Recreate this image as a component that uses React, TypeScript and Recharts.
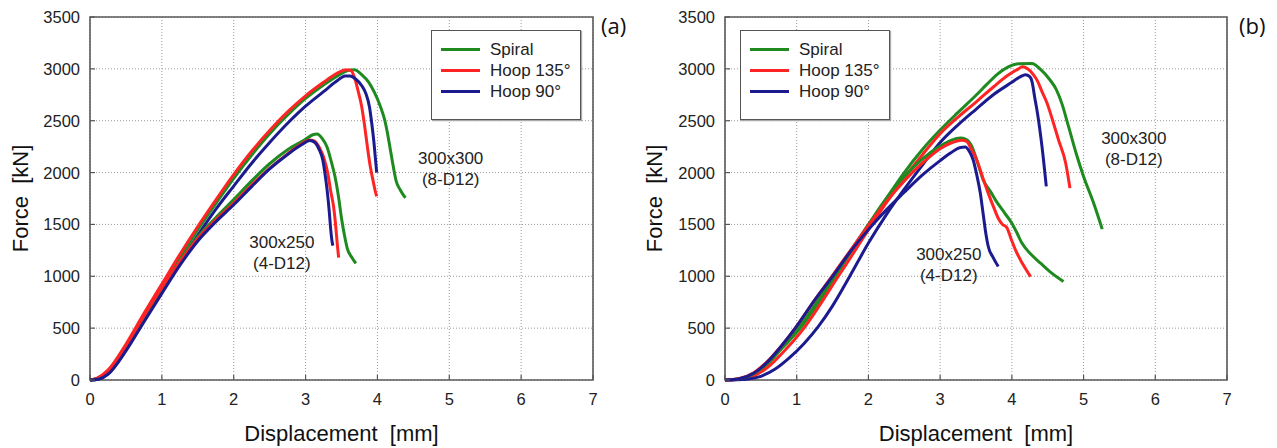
import { LineChart, Line, XAxis, YAxis, CartesianGrid, ReferenceArea, ReferenceDot } from "recharts";

type Pt = [number, number];

const xTicks = [0, 1, 2, 3, 4, 5, 6, 7];
const yTicks = [0, 500, 1000, 1500, 2000, 2500, 3000, 3500];
const legendLabels = ["Spiral", "Hoop 135°", "Hoop 90°"];
const lineColors = ["#1f8a1f", "#ff2424", "#1b1b8f"];

// panel (a) — displacement [mm], force [kN]
const aSpiral300: Pt[] = [[0, 0], [0.1, 12], [0.25, 80], [0.5, 320], [0.75, 610], [1, 895], [1.25, 1180], [1.5, 1450], [1.75, 1700], [2, 1945], [2.25, 2170], [2.5, 2375], [2.75, 2555], [3, 2715], [3.25, 2845], [3.45, 2935], [3.6, 2985], [3.68, 2992], [3.78, 2945], [3.88, 2870], [3.96, 2770], [4.04, 2640], [4.1, 2510], [4.14, 2380], [4.18, 2220], [4.22, 2060], [4.26, 1920], [4.32, 1830], [4.39, 1755]];
const aHoop135_300: Pt[] = [[0, 0], [0.1, 18], [0.25, 95], [0.5, 345], [0.75, 640], [1, 925], [1.25, 1210], [1.5, 1480], [1.75, 1735], [2, 1980], [2.25, 2205], [2.5, 2405], [2.75, 2585], [3, 2740], [3.25, 2870], [3.42, 2950], [3.55, 2988], [3.62, 2990], [3.68, 2920], [3.73, 2790], [3.78, 2640], [3.82, 2460], [3.86, 2250], [3.9, 2060], [3.94, 1920], [3.97, 1820], [3.99, 1770]];
const aHoop90_300: Pt[] = [[0, 0], [0.12, 10], [0.25, 60], [0.5, 290], [0.75, 570], [1, 850], [1.25, 1130], [1.5, 1395], [1.75, 1645], [2, 1870], [2.25, 2090], [2.5, 2290], [2.75, 2475], [3, 2640], [3.25, 2780], [3.42, 2875], [3.55, 2930], [3.62, 2932], [3.7, 2900], [3.78, 2840], [3.84, 2760], [3.89, 2630], [3.92, 2480], [3.95, 2300], [3.97, 2150], [3.99, 2000]];
const aSpiral250: Pt[] = [[0, 0], [0.1, 10], [0.25, 70], [0.5, 305], [0.75, 595], [1, 875], [1.25, 1140], [1.5, 1380], [1.75, 1565], [2, 1740], [2.25, 1920], [2.5, 2085], [2.75, 2220], [3, 2320], [3.1, 2365], [3.16, 2372], [3.23, 2330], [3.3, 2245], [3.36, 2100], [3.41, 1960], [3.46, 1760], [3.5, 1560], [3.54, 1400], [3.58, 1270], [3.64, 1185], [3.7, 1125]];
const aHoop135_250: Pt[] = [[0, 0], [0.1, 15], [0.25, 85], [0.5, 330], [0.75, 615], [1, 890], [1.25, 1140], [1.5, 1365], [1.75, 1545], [2, 1705], [2.25, 1880], [2.5, 2040], [2.75, 2180], [2.95, 2280], [3.05, 2315], [3.12, 2305], [3.2, 2230], [3.26, 2130], [3.31, 1990], [3.35, 1820], [3.39, 1670], [3.42, 1480], [3.44, 1320], [3.46, 1180]];
const aHoop90_250: Pt[] = [[0, 0], [0.13, 10], [0.25, 55], [0.5, 280], [0.75, 560], [1, 835], [1.25, 1105], [1.5, 1340], [1.75, 1525], [2, 1690], [2.25, 1865], [2.5, 2035], [2.75, 2175], [2.95, 2270], [3.06, 2310], [3.13, 2290], [3.19, 2220], [3.24, 2120], [3.27, 1990], [3.3, 1830], [3.33, 1620], [3.35, 1450], [3.37, 1330], [3.38, 1295]];

// panel (b)
const bSpiral300: Pt[] = [[0, 0], [0.2, 10], [0.4, 55], [0.6, 160], [0.8, 310], [1.05, 500], [1.25, 690], [1.54, 1000], [1.75, 1230], [2, 1490], [2.25, 1750], [2.5, 2000], [2.75, 2220], [3, 2410], [3.25, 2580], [3.5, 2745], [3.65, 2850], [3.8, 2950], [3.95, 3020], [4.1, 3050], [4.28, 3052], [4.4, 2995], [4.53, 2895], [4.62, 2800], [4.7, 2660], [4.79, 2445], [4.91, 2155], [5, 1962], [5.14, 1706], [5.26, 1455]];
const bHoop135_300: Pt[] = [[0, 0], [0.2, 8], [0.4, 40], [0.6, 125], [0.8, 260], [1.1, 500], [1.3, 700], [1.58, 1000], [1.75, 1180], [2, 1450], [2.25, 1710], [2.5, 1950], [2.75, 2170], [3, 2375], [3.25, 2535], [3.5, 2680], [3.75, 2830], [3.95, 2940], [4.08, 2995], [4.15, 3020], [4.22, 3000], [4.3, 2945], [4.36, 2880], [4.42, 2780], [4.49, 2670], [4.57, 2500], [4.65, 2317], [4.75, 2092], [4.81, 1850]];
const bHoop90_300: Pt[] = [[0, 0], [0.3, 8], [0.5, 35], [0.7, 105], [0.9, 215], [1.1, 350], [1.3, 515], [1.5, 715], [1.74, 1000], [2, 1320], [2.25, 1595], [2.5, 1840], [2.75, 2070], [3, 2290], [3.25, 2460], [3.5, 2610], [3.75, 2755], [4, 2870], [4.12, 2925], [4.19, 2944], [4.25, 2925], [4.28, 2880], [4.32, 2720], [4.36, 2560], [4.42, 2252], [4.48, 1866]];
const bSpiral250: Pt[] = [[0, 0], [0.2, 12], [0.4, 60], [0.6, 170], [0.8, 320], [1.03, 500], [1.25, 720], [1.52, 1000], [1.75, 1240], [2, 1500], [2.25, 1750], [2.5, 1960], [2.75, 2130], [3, 2255], [3.15, 2310], [3.28, 2333], [3.36, 2320], [3.44, 2255], [3.52, 2100], [3.6, 1930], [3.7, 1820], [3.77, 1737], [3.9, 1610], [4, 1512], [4.07, 1420], [4.14, 1320], [4.27, 1210], [4.4, 1126], [4.53, 1045], [4.72, 949]];
const bHoop135_250: Pt[] = [[0, 0], [0.2, 15], [0.4, 70], [0.6, 185], [0.8, 340], [0.98, 500], [1.25, 770], [1.49, 1000], [1.75, 1250], [2, 1490], [2.25, 1720], [2.5, 1920], [2.75, 2090], [3, 2230], [3.15, 2285], [3.3, 2312], [3.37, 2300], [3.44, 2220], [3.51, 2124], [3.59, 1960], [3.67, 1802], [3.75, 1660], [3.81, 1560], [3.87, 1500], [3.93, 1470], [3.99, 1360], [4.05, 1255], [4.15, 1120], [4.26, 997]];
const bHoop90_250: Pt[] = [[0, 0], [0.2, 12], [0.4, 65], [0.6, 180], [0.8, 340], [0.98, 500], [1.25, 770], [1.5, 1000], [1.75, 1240], [2, 1450], [2.25, 1640], [2.5, 1810], [2.75, 1975], [3, 2115], [3.15, 2190], [3.27, 2240], [3.35, 2246], [3.41, 2200], [3.46, 2124], [3.51, 1980], [3.56, 1802], [3.6, 1600], [3.64, 1400], [3.67, 1290], [3.74, 1180], [3.81, 1094]];

// specimen notes: text lines + where they sit in data units
const noteTexts = [["300x300", "(8-D12)"], ["300x250", "(4-D12)"]];
const aNoteAt: Pt[] = [[5.02, 2040], [2.67, 1234]];
const bNoteAt: Pt[] = [[5.7, 2232], [3.12, 1118]];

const FONT = "'Liberation Sans', Arial, sans-serif";

const toRows = (pts: Pt[]) => pts.map(([x, y]) => ({ x, y }));

const XTick = ({ x, y, payload }: any) => (
  <g>
    <line x1={x} x2={x} y1={y} y2={y - 5} stroke="#555" strokeWidth={1.2} />
    <text x={x} y={y + 25} textAnchor="middle" fontFamily={FONT} fontSize={16.5} fill="#222">{payload.value}</text>
  </g>
);

const YTick = ({ x, y, payload }: any) => (
  <g>
    <line x1={x} x2={x + 5} y1={y} y2={y} stroke="#555" strokeWidth={1.2} />
    <text x={x - 10} y={y + 6} textAnchor="end" fontFamily={FONT} fontSize={16.5} fill="#222">{payload.value}</text>
  </g>
);

const noteShape = (lines: string[]) => (p: any) => (
  <text textAnchor="middle" fontFamily={FONT} fontSize={17} fill="#222">
    {lines.map((s, i) => (
      <tspan key={i} x={p.cx} y={p.cy + 6 + (i - (lines.length - 1) / 2) * 21}>{s}</tspan>
    ))}
  </text>
);

interface PanelProps {
  left: number;
  width: number;
  marginRight: number;
  axisWidth: number;
  curves: Pt[][];
  notes: Pt[];
  legendLeft: number;
  letter: string;
  letterLeft: number;
  titleOffset: number;
}

function Panel({ left, width, marginRight, axisWidth, curves, notes, legendLeft, letter, letterLeft, titleOffset }: PanelProps) {
  return (
    <div style={{ position: "absolute", left, top: 0, width, height: 448 }}>
      <LineChart width={width} height={448} margin={{ top: 17, right: marginRight, left: 0, bottom: 0 }}>
        <CartesianGrid stroke="#9a9a9a" strokeDasharray="1 2" />
        <XAxis
          dataKey="x" type="number" domain={[0, 7]} ticks={xTicks} height={68}
          axisLine={false} tickLine={false} tickSize={0} tickMargin={0} tick={XTick}
          label={{ value: "Displacement\u00a0\u00a0[mm]", position: "insideBottom", offset: 7, style: { fontSize: 22, fontFamily: FONT, fill: "#111" } }}
        />
        <YAxis
          type="number" domain={[0, 3500]} ticks={yTicks} width={axisWidth}
          axisLine={false} tickLine={false} tickSize={0} tickMargin={0} tick={YTick}
          label={{ value: "Force\u00a0\u00a0[kN]", angle: -90, position: "insideLeft", offset: titleOffset, style: { textAnchor: "middle", fontSize: 22, fontFamily: FONT, fill: "#111" } }}
        />
        <ReferenceArea x1={0} x2={7} y1={0} y2={3500} fill="none" stroke="#5a5a5a" strokeWidth={1.6} ifOverflow="visible" />
        {curves.map((c, i) => (
          <Line
            key={i} data={toRows(c)} dataKey="y" type="monotone" stroke={lineColors[i % 3]}
            strokeWidth={3} dot={false} activeDot={false} isAnimationActive={false}
          />
        ))}
        {notes.map((n, i) => (
          <ReferenceDot key={i} x={n[0]} y={n[1]} r={0} ifOverflow="visible" shape={noteShape(noteTexts[i])} />
        ))}
      </LineChart>
      <div
        style={{
          position: "absolute", left: legendLeft, top: 30, width: 148, height: 80,
          border: "1.5px solid #555", background: "#fff", boxShadow: "1px 1px 1px #aaa",
          paddingTop: 8, boxSizing: "content-box", fontFamily: FONT, fontSize: 17, color: "#222",
        }}
      >
        {legendLabels.map((name, i) => (
          <div key={name} style={{ display: "flex", alignItems: "center", height: 21, paddingLeft: 9 }}>
            <div style={{ width: 39, height: 3.5, background: lineColors[i], marginRight: 10 }} />
            <span style={{ whiteSpace: "nowrap" }}>{name}</span>
          </div>
        ))}
      </div>
      <div style={{ position: "absolute", left: letterLeft, top: 14, fontFamily: "'Open Sans', sans-serif", fontSize: 22, lineHeight: "22px", color: "#111" }}>
        {letter}
      </div>
    </div>
  );
}

export default function App() {
  return (
    <div style={{ position: "absolute", left: 0, top: 0, width: 1277, height: 448, background: "#fff", overflow: "hidden" }}>
      <Panel
        left={0} width={640} marginRight={47} axisWidth={90}
        curves={[aSpiral300, aHoop135_300, aHoop90_300, aSpiral250, aHoop135_250, aHoop90_250]}
        notes={aNoteAt} legendLeft={431} letter="(a)" letterLeft={601} titleOffset={20}
      />
      <Panel
        left={636} width={641} marginRight={50} axisWidth={89}
        curves={[bSpiral300, bHoop135_300, bHoop90_300, bSpiral250, bHoop135_250, bHoop90_250]}
        notes={bNoteAt} legendLeft={104} letter="(b)" letterLeft={603} titleOffset={18}
      />
    </div>
  );
}
